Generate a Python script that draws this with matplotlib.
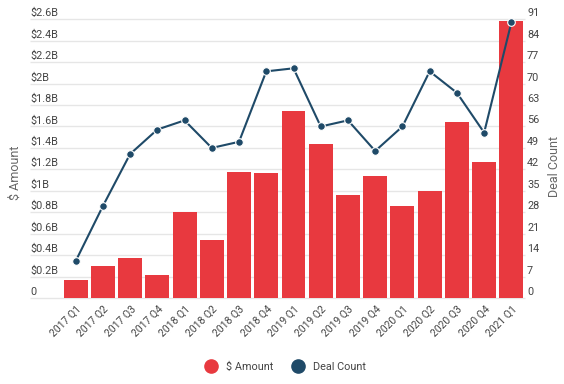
import matplotlib.pyplot as plt
import matplotlib.transforms as mtransforms
from matplotlib.lines import Line2D

plt.rcParams['font.family'] = ['Roboto', 'DejaVu Sans']

quarters = ["2017 Q1", "2017 Q2", "2017 Q3", "2017 Q4",
            "2018 Q1", "2018 Q2", "2018 Q3", "2018 Q4",
            "2019 Q1", "2019 Q2", "2019 Q3", "2019 Q4",
            "2020 Q1", "2020 Q2", "2020 Q3", "2020 Q4",
            "2021 Q1"]
amount_b = [0.17, 0.30, 0.37, 0.21, 0.80, 0.54, 1.18, 1.17,
            1.74, 1.44, 0.96, 1.14, 0.86, 1.00, 1.64, 1.27, 2.58]
deal_count = [12, 30, 47, 55, 58, 49, 51, 74, 75, 56, 58, 48, 56, 74, 67, 54, 90]

left_ticks = [0, 0.2, 0.4, 0.6, 0.8, 1.0, 1.2, 1.4, 1.6, 1.8, 2.0, 2.2, 2.4, 2.6]
left_labels = ["0", "$0.2B", "$0.4B", "$0.6B", "$0.8B", "$1B", "$1.2B", "$1.4B",
               "$1.6B", "$1.8B", "$2B", "$2.2B", "$2.4B", "$2.6B"]
right_ticks = [0, 7, 14, 21, 28, 35, 42, 49, 56, 63, 70, 77, 84, 91]

RED = "#E8393F"
NAVY = "#1F4A68"
TXT = "#444444"
GRID = "#e6e6e6"

W, H = 564, 384
fig = plt.figure(figsize=(W / 100, H / 100), dpi=100)
ax_l, ax_r, ax_b, ax_t = 62, 525, 298, 19.3
ax = fig.add_axes([ax_l / W, 1 - ax_b / H, (ax_r - ax_l) / W, (ax_b - ax_t) / H])
ax2 = ax.twinx()

x = list(range(len(quarters)))
ax.bar(x, amount_b, width=0.88, color=RED, zorder=2)
ax.set_xlim(-0.5, len(quarters) - 0.5)
ax.set_ylim(0, 2.6)
ax2.set_ylim(0, 91)

ax2.plot(x, deal_count, color=NAVY, linewidth=1.5, marker="o", markersize=5.5,
         markerfacecolor=NAVY, markeredgecolor="white", markeredgewidth=0.8, zorder=3)

# gridlines extend left under the labels
xmin_data = -0.5 - (ax_l - 30) / 27.2
ax.hlines(left_ticks, xmin_data, len(quarters) - 0.5, colors=GRID, linewidth=1,
          clip_on=False, zorder=0)

for a in (ax, ax2):
    for s in a.spines.values():
        s.set_visible(False)
    a.set_yticks([])

# y labels sitting just above the gridlines
up = mtransforms.offset_copy(ax.get_yaxis_transform(), fig=fig, x=0, y=6, units="dots")
for v, lab in zip(left_ticks, left_labels):
    ax.text((30 - ax_l) / (ax_r - ax_l), v, lab, transform=up, ha="left", va="center",
            fontsize=7.8, color=TXT)
up2 = mtransforms.offset_copy(ax2.get_yaxis_transform(), fig=fig, x=0, y=6, units="dots")
for v in right_ticks:
    ax2.text(1 + 2 / (ax_r - ax_l), v, str(v), transform=up2, ha="left", va="center",
             fontsize=7.8, color=TXT)

ax.set_xticks(x)
ax.set_xticklabels(quarters, rotation=45, ha="right", va="center",
                   rotation_mode="anchor", fontsize=7.5, color=TXT)
ax.tick_params(axis="x", length=0, pad=7)
shift = mtransforms.ScaledTranslation(4 / 100, 0, fig.dpi_scale_trans)
for lbl in ax.get_xticklabels():
    lbl.set_transform(lbl.get_transform() + shift)

fig.text(15 / W, 1 - 173 / H, "$ Amount", rotation=90, ha="center", va="center",
         fontsize=9, color="#666666")
fig.text(554 / W, 1 - 166 / H, "Deal Count", rotation=90, ha="center", va="center",
         fontsize=9, color="#666666")

handles = [Line2D([], [], linestyle="none", marker="o", markersize=9.5, color=RED),
           Line2D([], [], linestyle="none", marker="o", markersize=9.5, color=NAVY)]
fig.legend(handles, ["$ Amount", "Deal Count"], loc="center", ncol=2,
           bbox_to_anchor=(0.502, 1 - 367 / H), frameon=False, fontsize=7.8,
           handletextpad=0.4, columnspacing=1.2, labelcolor=TXT)

fig.savefig("out.png", dpi=100)
